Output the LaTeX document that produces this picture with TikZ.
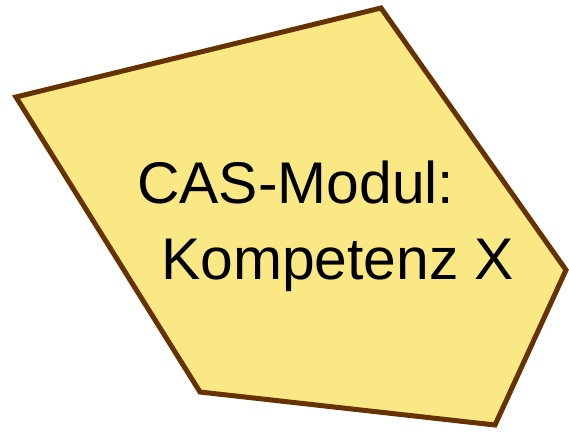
\documentclass[tikz,border=0pt]{standalone}
\usepackage{fontspec}
\setmainfont{Liberation Sans}
\usepackage{tikz}
\usetikzlibrary{positioning}
\definecolor{modfill}{HTML}{F9E884}
\definecolor{modline}{HTML}{663300}
\tikzset{
  modul/.style={draw=modline,fill=modfill,line width=5pt},
  modtext/.style={anchor=base west,inner sep=0pt,font=\fontsize{58.8}{75}\selectfont}
}
\begin{document}
\begin{tikzpicture}[x=1pt,y=-1pt]
  \useasboundingbox (0,0) rectangle (569,432); % Rahmen der Seite
  % Fuenfeck des Moduls
  \draw[modul] (16,97) -- (381,8) -- (566,270) -- (495,425) -- (200,392) -- cycle;
  \node[modtext] (zeile1) at (137,203) {CAS-Modul:};
  \node[modtext] (zeile2) at (161,279) {Kompetenz X};
\end{tikzpicture}
\end{document}
